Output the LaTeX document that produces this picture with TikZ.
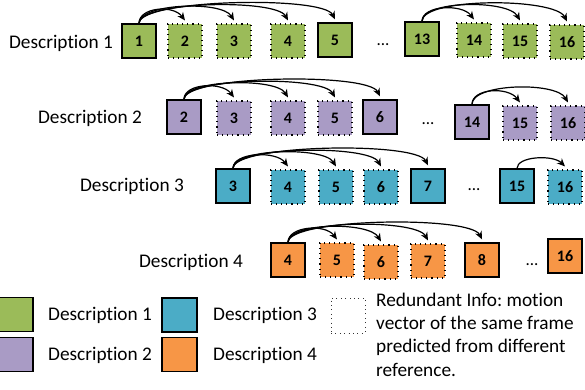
\documentclass[tikz,border=0pt]{standalone}
\usepackage{fontspec}
\setmainfont{Carlito}[Ligatures={NoCommon}]
\frenchspacing
\usetikzlibrary{arrows.meta}
\definecolor{cg}{HTML}{9BBB59}
\definecolor{cp}{HTML}{A99BC5}
\definecolor{ct}{HTML}{4BACC6}
\definecolor{co}{HTML}{F79646}
\tikzset{
  fr/.style={minimum width=34pt, minimum height=34pt, inner sep=0pt, font=\fontsize{16}{16}\selectfont\bfseries},
  keyfr/.style={fr, draw=black, line width=1.4pt},
  redfr/.style={fr, draw=black, line width=1.1pt, dash pattern=on 1.1pt off 4pt},
  mv/.style={-{Stealth[length=8pt,width=7pt,inset=2.5pt]}, line width=1.2pt},
  rowlab/.style={font=\fontsize{19.3}{19.3}\selectfont, inner sep=0pt},
  leglab/.style={font=\fontsize{19.3}{19.3}\selectfont, inner sep=0pt, anchor=west},
  dotsl/.style={font=\fontsize{17}{17}\selectfont, inner sep=0pt},
}
\newcommand\mvarc[3]{\draw[mv] (#1.north) .. controls +(0,-#3) and +(-12,-#3) .. ([yshift=3pt]#2.north);}
\begin{document}
\begin{tikzpicture}[x=1pt,y=-1pt]
\useasboundingbox (0,0) rectangle (585,390);
% Row 1
\node[rowlab] (l1) at (61,43) {Description 1};
\node[keyfr, fill=cg] (a1) at (139,41) {1};
\node[redfr, fill=cg] (a2) at (185,41) {2};
\node[redfr, fill=cg] (a3) at (234,41) {3};
\node[redfr, fill=cg] (a4) at (288,41) {4};
\node[keyfr, fill=cg] (a5) at (335,40) {5};
\node[dotsl] (d1) at (383,45) {...};
\node[keyfr, fill=cg] (a13) at (422,39) {13};
\node[redfr, fill=cg] (a14) at (474,40) {14};
\node[redfr, fill=cg] (a15) at (520,41) {15};
\node[redfr, fill=cg] (a16) at (567,42) {16};
\mvarc{a1}{a2}{16}
\mvarc{a1}{a3}{20}
\mvarc{a1}{a4}{22}
\mvarc{a1}{a5}{24}
\mvarc{a13}{a14}{16}
\mvarc{a13}{a15}{21}
\mvarc{a13}{a16}{24}
% Row 2
\node[rowlab] (l2) at (90,118) {Description 2};
\node[keyfr, fill=cp] (b2) at (184,117) {2};
\node[redfr, fill=cp] (b3) at (234,118) {3};
\node[redfr, fill=cp] (b4) at (288,118) {4};
\node[redfr, fill=cp] (b5) at (335,118) {5};
\node[keyfr, fill=cp] (b6) at (380,117) {6};
\node[dotsl] (d2) at (428,124) {...};
\node[keyfr, fill=cp] (b14) at (472,122) {14};
\node[redfr, fill=cp] (b15) at (520,123) {15};
\node[redfr, fill=cp] (b16) at (568,123) {16};
\mvarc{b2}{b3}{16}
\mvarc{b2}{b4}{20}
\mvarc{b2}{b5}{22}
\mvarc{b2}{b6}{24}
\mvarc{b14}{b15}{16}
\mvarc{b14}{b16}{21}
% Row 3
\node[rowlab] (l3) at (132,186) {Description 3};
\node[keyfr, fill=ct] (c3) at (233,186) {3};
\node[redfr, fill=ct] (c4) at (288,187) {4};
\node[redfr, fill=ct] (c5) at (336,187) {5};
\node[redfr, fill=ct] (c6) at (381,187) {6};
\node[keyfr, fill=ct] (c7) at (428,186) {7};
\node[dotsl] (d3) at (474,190) {...};
\node[keyfr, fill=ct] (c15) at (517,186) {15};
\node[redfr, fill=ct] (c16) at (565,187) {16};
\mvarc{c3}{c4}{16}
\mvarc{c3}{c5}{20}
\mvarc{c3}{c6}{22}
\mvarc{c3}{c7}{24}
\mvarc{c15}{c16}{12}
% Row 4
\node[rowlab] (l4) at (191,262) {Description 4};
\node[keyfr, fill=co] (e4) at (288,260) {4};
\node[redfr, fill=co] (e5) at (337,260) {5};
\node[redfr, fill=co] (e6) at (381,262) {6};
\node[redfr, fill=co] (e7) at (428,261) {7};
\node[keyfr, fill=co] (e8) at (482,260) {8};
\node[dotsl] (d4) at (532,265) {...};
\node[keyfr, fill=co] (e16) at (565,256) {16};
\mvarc{e4}{e5}{16}
\mvarc{e4}{e6}{20}
\mvarc{e4}{e7}{22}
\mvarc{e4}{e8}{24}
% Legend
\node[keyfr, fill=cg, minimum width=35pt] (g1) at (15.5,314.5) {};
\node[keyfr, fill=cp, minimum width=35pt] (g2) at (15.5,354.5) {};
\node[keyfr, fill=ct, minimum width=35pt] (g3) at (179.5,315) {};
\node[keyfr, fill=co, minimum width=35pt] (g4) at (179.5,354.5) {};
\node[leglab] (t1) at (48,315) {Description 1};
\node[leglab] (t2) at (48,355) {Description 2};
\node[leglab] (t3) at (213,315) {Description 3};
\node[leglab] (t4) at (213,355) {Description 4};
\node[draw=black!80, line width=0.9pt, dash pattern=on 0.9pt off 3.5pt, minimum width=34pt, minimum height=35pt, inner sep=0pt] (g5) at (348,315.5) {};
\node[leglab, anchor=north west, align=left, font=\fontsize{19.3}{23.3}\selectfont] (t5) at (376,292.5) {Redundant Info: motion\\vector of the same frame\\predicted from different\\reference.};
\end{tikzpicture}
\end{document}
